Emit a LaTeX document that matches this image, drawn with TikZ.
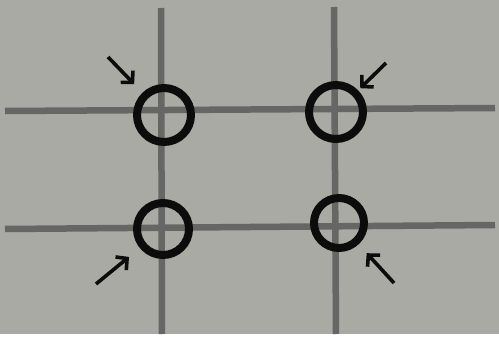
\documentclass[tikz,border=0pt]{standalone}
\usepackage{xcolor}
\definecolor{paper}{HTML}{A9AAA3}
\definecolor{gridline}{HTML}{666764}
\definecolor{ink}{HTML}{0C0C0C}
\usepackage{tikz}
\usetikzlibrary{arrows.meta}

\begin{document}
\begin{tikzpicture}[
  x=1pt,y=-1pt,
  >={Straight Barb[length=8pt,width=17pt]},
  thirds/.style={draw=gridline,line width=6.5pt},
  spot/.style={circle,draw=ink,line width=8pt,minimum size=54pt,inner sep=0pt},
  pointer/.style={->,draw=ink,line width=3.6pt},
]

% --- backdrop, fixes the bounding box
\fill[paper] (0,0) rectangle (499,334);

% --- the four grid lines
\draw[thirds] (161,8) -- (162,334);
\draw[thirds] (334,7) -- (336,334);
\draw[thirds] (5,111) -- (495,108);
\draw[thirds] (5,229) -- (495,225);

% --- circles at the crossings
\node[spot] (tl) at (164,115) {};
\node[spot] (tr) at (336,112) {};
\node[spot,minimum size=52pt] (bl) at (163,229) {};
\node[spot,minimum size=50pt] (br) at (339,223) {};

% --- arrow tails
\coordinate (tlfrom) at (108,57);
\coordinate (trfrom) at (386,63);
\coordinate (blfrom) at (96,284);
\coordinate (brfrom) at (394,283);

% --- arrows
\draw[pointer,shorten >=12pt] (tlfrom) -- (tl);
\draw[pointer,shorten >=3pt]  (trfrom) -- (tr);
\draw[pointer,shorten >=14pt] (blfrom) -- (bl);
\draw[pointer,shorten >=12pt] (brfrom) -- (br);

\end{tikzpicture}
\end{document}
